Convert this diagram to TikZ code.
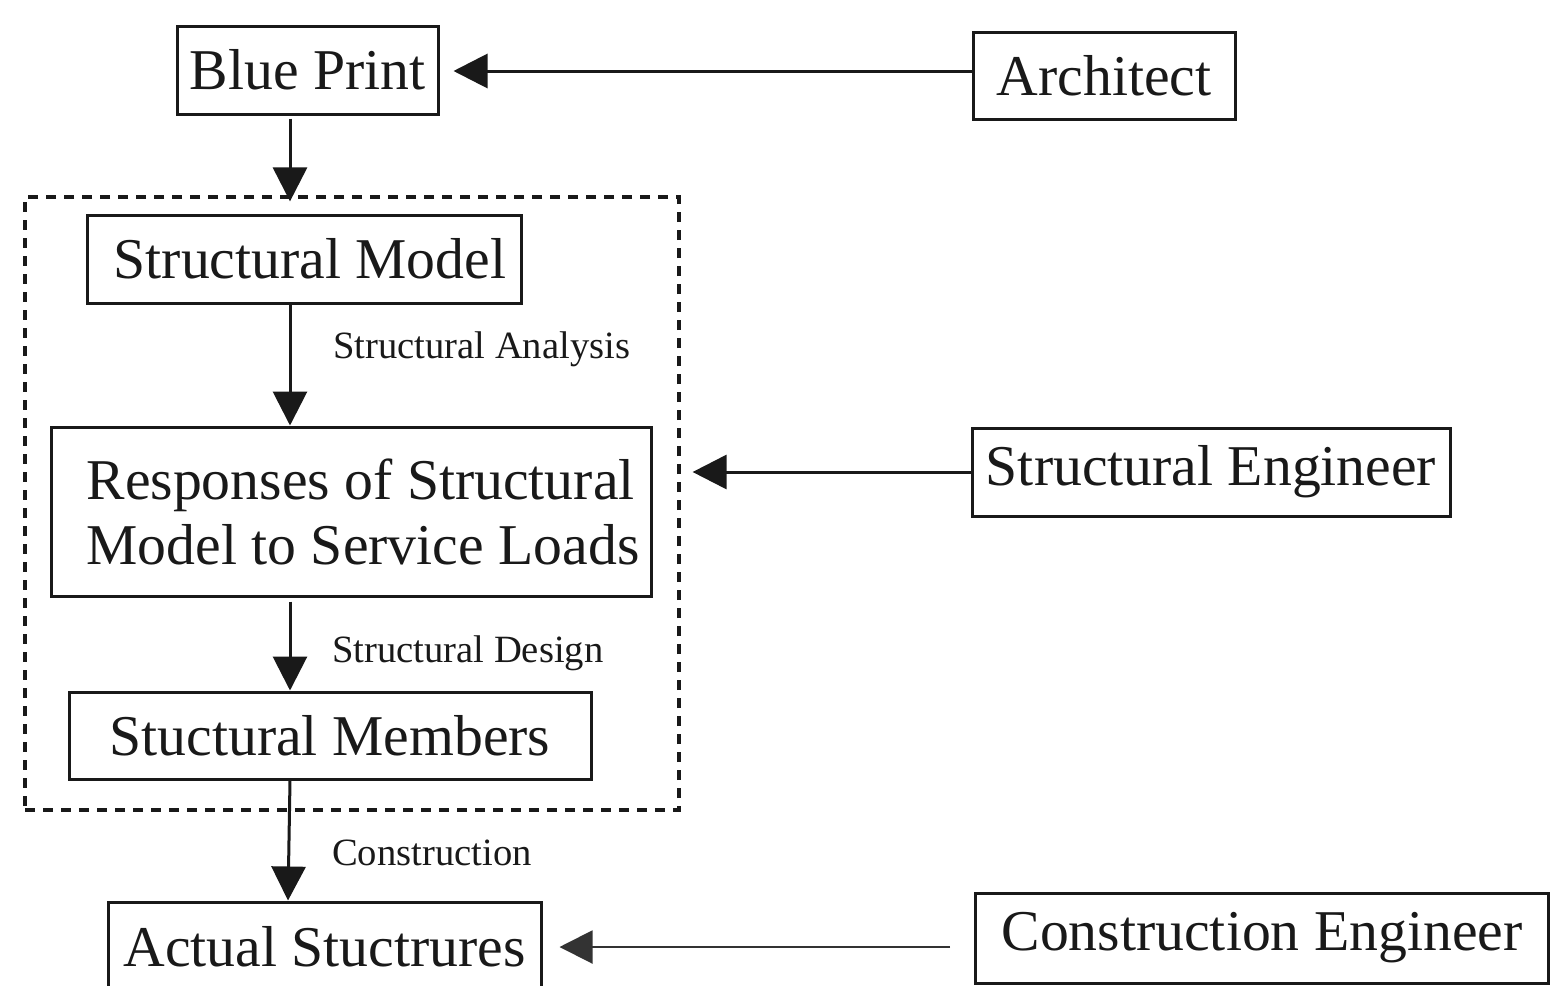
\documentclass[tikz,border=0pt]{standalone}
\usepackage{fontspec}
\setmainfont{Liberation Serif}
\usetikzlibrary{arrows.meta}
\newcommand\boxfont{\fontsize{57.7}{65}\selectfont}
\newcommand\labfont{\fontsize{38.6}{44}\selectfont}
\begin{document}
\begin{tikzpicture}[x=1pt,y=-1pt,
  stagebox/.style={draw=black!90, line width=3pt, inner sep=0pt, font=\boxfont, text=black!90, align=center},
  groupbox/.style={draw=black!90, line width=3.2pt, dash pattern=on 10pt off 8pt, inner sep=0pt},
  steplabel/.style={font=\labfont, text=black!90, anchor=west, inner sep=0pt},
  flow/.style={draw=black!90, line width=3pt, -{Triangle[length=34pt,width=34pt]}},
  thinflow/.style={draw=black!80, line width=2pt, -{Triangle[length=33pt,width=33pt]}}]
\useasboundingbox (0,0) rectangle (1552,985);
\fill[white] (0,0) rectangle (1552,985);

% left column: the design chain
\node[stagebox, minimum width=261pt, minimum height=88pt] (bp) at (307.5,70) {Blue Print};
\node[groupbox, minimum width=654pt, minimum height=613pt] (grp) at (352,503.5) {};
\node[stagebox, minimum width=434pt, minimum height=88pt] (sm) at (304,259) {\hspace*{12pt}Structural Model};
\node[stagebox, minimum width=600pt, minimum height=169pt, align=left] (resp) at (351,511.5)
  {\hspace*{24pt}Responses of Structural\\\hspace*{24pt}Model to Service Loads};
\node[stagebox, minimum width=522pt, minimum height=87pt] (mem) at (330,735.5) {Stuctural Members};
\node[stagebox, minimum width=433pt, minimum height=90pt] (act) at (324.5,947) {Actual Stuctrures};

% right column: the people
\node[stagebox, minimum width=262pt, minimum height=87pt] (arch) at (1104,75.5) {Architect};
\node[stagebox, minimum width=478pt, minimum height=88pt] (se) at (1211,472) {Structural Engineer};
\node[stagebox, minimum width=573pt, minimum height=90pt] (ce) at (1262,938) {Construction Engineer};

% step labels
\node[steplabel] (la) at (333,349) {Structural Analysis};
\node[steplabel] (ld) at (332,653) {Structural Design};
\node[steplabel] (lc) at (332,853) {Construction};

% vertical flow
\coordinate (col) at (290,0);
\draw[flow] ([yshift=-3pt]bp.south -| col) -- ([yshift=-6pt]grp.north -| col);
\draw[flow] (sm.south -| col) -- (resp.north -| col);
\draw[flow] ([yshift=-4pt]resp.south -| col) -- (mem.north -| col);
\draw[flow] (mem.south -| col) -- ([xshift=-2pt]act.north -| col);

% responsibilities
\draw[flow] ([yshift=4.5pt]arch.west) -- ([xshift=14pt,yshift=-1pt]bp.east);
\draw[flow] (se.west) -- ([xshift=12pt]grp.east |- se.west);
\draw[thinflow] ([xshift=-24pt,yshift=-9pt]ce.west) -- ([xshift=17pt]act.east);
\end{tikzpicture}
\end{document}
